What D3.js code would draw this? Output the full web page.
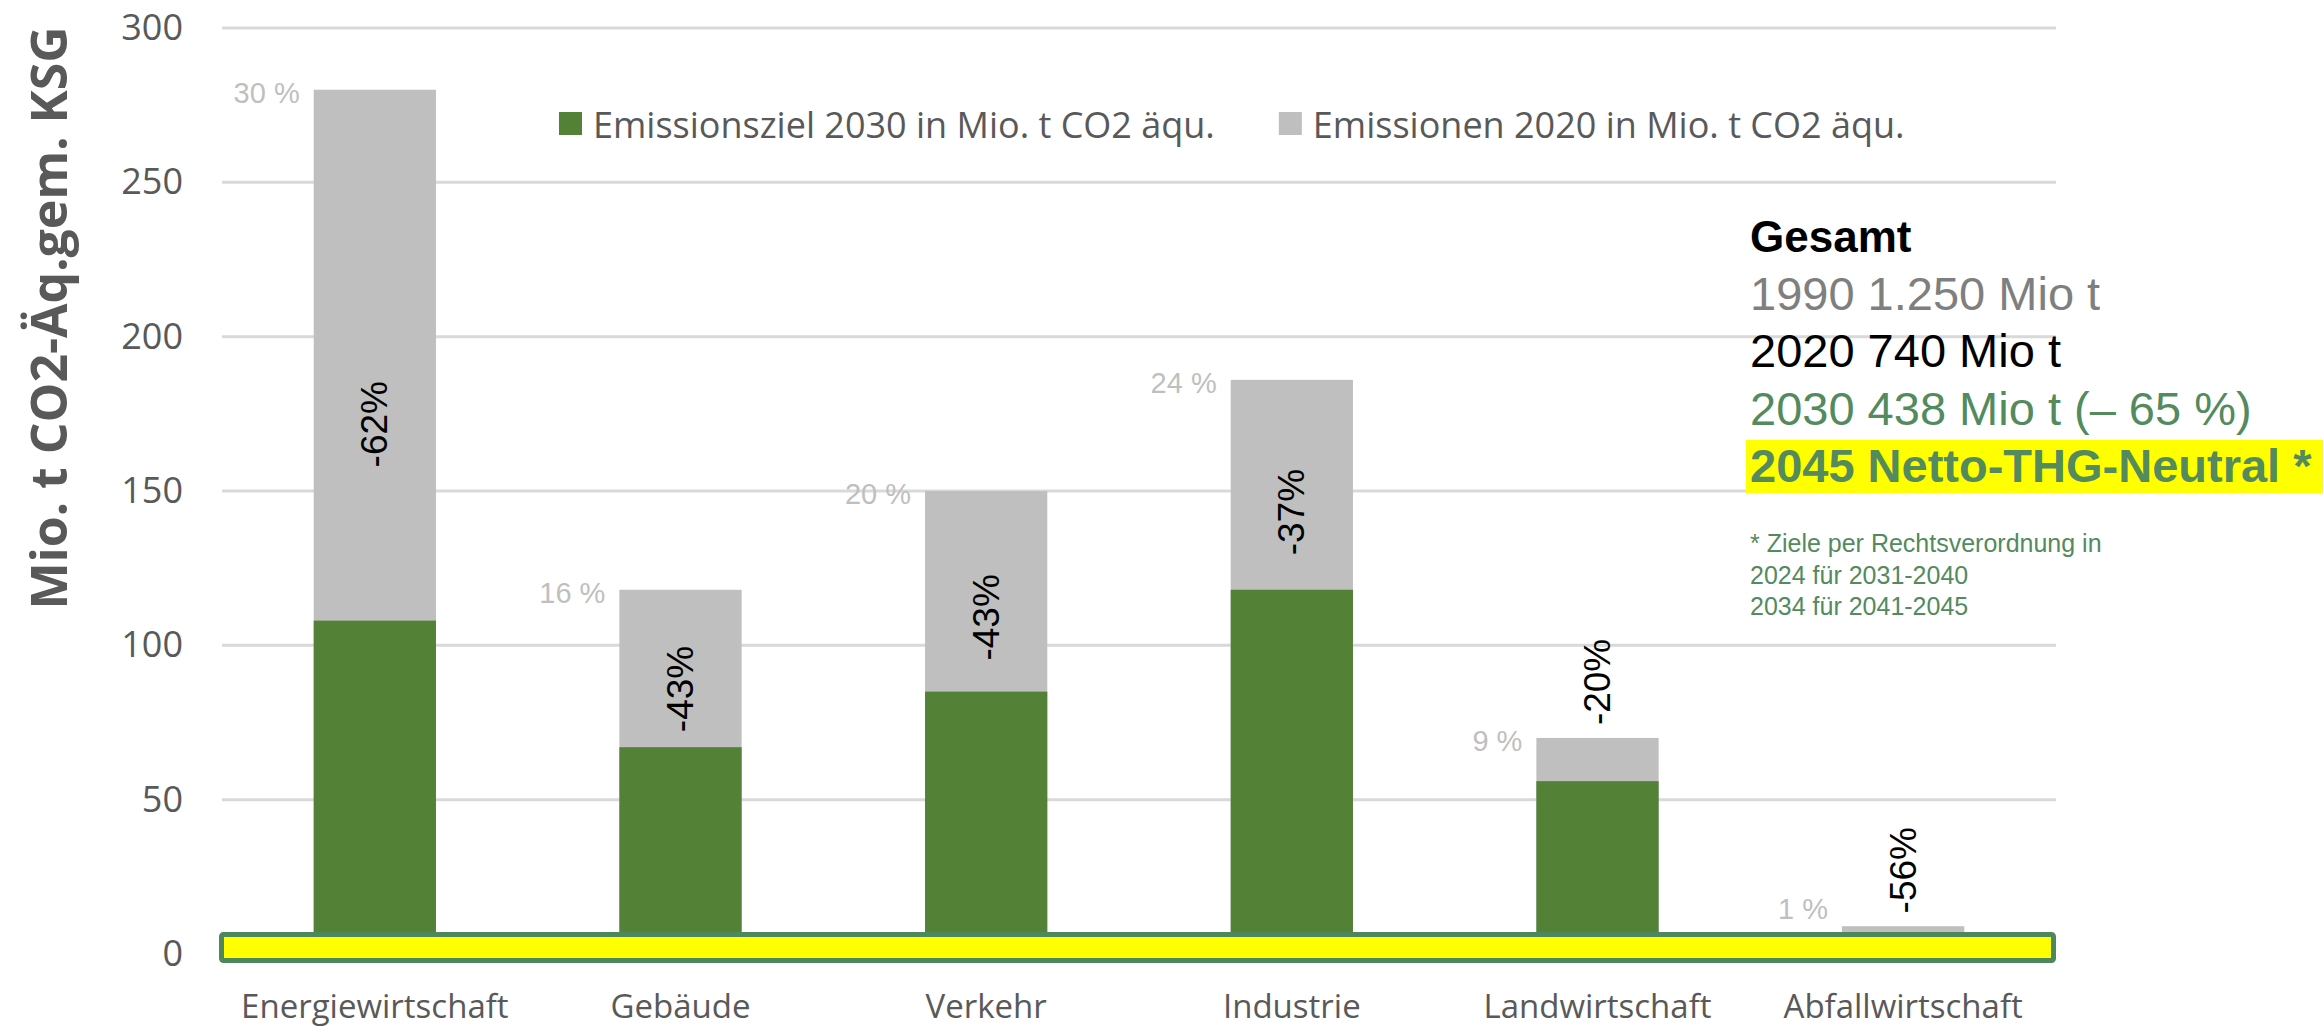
<!DOCTYPE html>
<html>
<head>
<meta charset="utf-8">
<script src="https://cdn.jsdelivr.net/npm/d3@7"></script>
<style>
  body { margin: 0; background: #fff; }
  svg { display: block; }
  .tick text { font-family: "Open Sans", sans-serif; fill: #595959; }
</style>
</head>
<body>
<svg id="chart"></svg>
<script>
let width = 2323, height = 1027;

// data (Mio. t CO2-Äq.)
const categories = ["Energiewirtschaft", "Gebäude", "Verkehr", "Industrie", "Landwirtschaft", "Abfallwirtschaft"];
const target2030 = [108, 67, 85, 118, 56, 4];
const emissions2020 = [280, 118, 150, 186, 70, 9];
const shareLabels = ["30 %", "16 %", "20 %", "24 %", "9 %", "1 %"];
const changeLabels = ["-62%", "-43%", "-43%", "-37%", "-20%", "-56%"];
const yTicks = [0, 50, 100, 150, 200, 250, 300];
const legendLabels = ["Emissionsziel 2030 in Mio. t CO2 äqu.", "Emissionen 2020 in Mio. t CO2 äqu."];
const gesamtLines = ["Gesamt", "1990 1.250 Mio t", "2020 740 Mio t", "2030 438 Mio t (– 65 %)", "2045 Netto-THG-Neutral *"];
const footnoteLines = ["* Ziele per Rechtsverordnung in", "2024 für 2031-2040", "2034 für 2041-2045"];

const green = "#538135", grey = "#bfbfbf", textGreen = "#538a5e";

let svg = d3.select("#chart")
    .attr("width", width)
    .attr("height", height);

let x = d3.scaleBand()
    .domain(categories)
    .range([222, 2056])
    .paddingInner(0.6)
    .paddingOuter(0.3);

let y = d3.scaleLinear()
    .domain([0, 300])
    .range([954, 28]);

let rows = categories.map((c, i) => ({
    cat: c, t: target2030[i], e: emissions2020[i],
    share: shareLabels[i], change: changeLabels[i]
}));

// gridlines
svg.append("g")
    .selectAll("line")
    .data(yTicks)
    .enter()
    .append("line")
    .attr("x1", 222)
    .attr("x2", 2056)
    .attr("y1", d => y(d))
    .attr("y2", d => y(d))
    .attr("stroke", "#d9d9d9")
    .attr("stroke-width", 3);

// y axis labels
let yAxis = svg.append("g")
    .attr("transform", "translate(183,0)")
    .call(d3.axisLeft(y).tickValues(yTicks).tickSize(0).tickPadding(0));
yAxis.select(".domain").remove();
yAxis.selectAll("text").style("font-size", "36px");

// x axis labels
let xAxis = svg.append("g")
    .attr("transform", "translate(0,990)")
    .call(d3.axisBottom(x).tickSize(0).tickPadding(0));
xAxis.select(".domain").remove();
xAxis.selectAll("text").style("font-size", "33px").attr("dy", "0.85em");

// bars: 2020 in grey behind, 2030 target in green
svg.append("g")
    .selectAll("rect")
    .data(rows)
    .enter()
    .append("rect")
    .attr("x", d => x(d.cat))
    .attr("width", x.bandwidth())
    .attr("y", d => y(d.e))
    .attr("height", d => y(0) - y(d.e))
    .attr("fill", grey);

svg.append("g")
    .selectAll("rect")
    .data(rows)
    .enter()
    .append("rect")
    .attr("x", d => x(d.cat))
    .attr("width", x.bandwidth())
    .attr("y", d => y(d.t))
    .attr("height", d => y(0) - y(d.t))
    .attr("fill", green);

// share of total, left of bar top (kept above the yellow band)
svg.append("g")
    .selectAll("text")
    .data(rows)
    .enter()
    .append("text")
    .attr("x", d => x(d.cat) - 14)
    .attr("y", d => Math.min(y(d.e) + 3, y(0) - 45))
    .attr("text-anchor", "end")
    .attr("dominant-baseline", "central")
    .style("font-family", "Liberation Sans, Arial, sans-serif")
    .style("font-size", "29px")
    .attr("fill", grey)
    .text(d => d.share);

// change labels, rotated
svg.append("g")
    .selectAll("text")
    .data(rows)
    .enter()
    .append("text")
    .attr("transform", d => {
        let seg = y(d.t) - y(d.e);
        let cy = seg > 100 ? y(d.e) + seg * 0.63 : y(d.e) - 56;
        return `translate(${x(d.cat) + x.bandwidth() / 2},${cy}) rotate(-90)`;
    })
    .attr("text-anchor", "middle")
    .attr("dominant-baseline", "central")
    .style("font-family", "Liberation Sans, Arial, sans-serif")
    .style("font-size", "37px")
    .attr("fill", "#000")
    .text(d => d.change);

// highlighted zero line
svg.append("rect")
    .attr("x", 221.5)
    .attr("y", y(0) - 19.5)
    .attr("width", 1832)
    .attr("height", 26)
    .attr("rx", 2)
    .attr("fill", "#ffff00")
    .attr("stroke", "#4f875d")
    .attr("stroke-width", 5);

// y axis title
svg.append("text")
    .attr("transform", "translate(67,318) rotate(-90)")
    .attr("text-anchor", "middle")
    .style("font-family", "Open Sans, sans-serif")
    .style("font-weight", "bold")
    .style("font-size", "50px")
    .attr("fill", "#595959")
    .text("Mio. t CO2-Äq.gem. KSG");

// legend
let legend = svg.append("g");
let lx = 559;
[green, grey].forEach((col, i) => {
    legend.append("rect")
        .attr("x", lx).attr("y", 112)
        .attr("width", 23).attr("height", 23)
        .attr("fill", col);
    let t = legend.append("text")
        .attr("x", lx + 34)
        .attr("y", 124)
        .attr("dominant-baseline", "central")
        .style("font-family", "Open Sans, sans-serif")
        .style("font-size", "36px")
        .attr("fill", "#595959")
        .text(legendLabels[i]);
    lx = lx + 34 + t.node().getComputedTextLength() + 64;
});

// Gesamt box
let gx = 1750;
svg.append("rect")
    .attr("x", gx - 4)
    .attr("y", 440)
    .attr("width", width - gx + 4)
    .attr("height", 53)
    .attr("fill", "#ffff00");

let lineStyles = [
    { fill: "#000", weight: "bold", size: 44 },
    { fill: "#7f7f7f", weight: "normal", size: 47 },
    { fill: "#000", weight: "normal", size: 47 },
    { fill: textGreen, weight: "normal", size: 47 },
    { fill: textGreen, weight: "bold", size: 47 }
];
svg.append("g")
    .selectAll("text")
    .data(gesamtLines)
    .enter()
    .append("text")
    .attr("x", gx)
    .attr("y", (d, i) => 252 + i * 57.5)
    .style("font-family", "Liberation Sans, Arial, sans-serif")
    .style("font-weight", (d, i) => lineStyles[i].weight)
    .style("font-size", (d, i) => lineStyles[i].size + "px")
    .attr("fill", (d, i) => lineStyles[i].fill)
    .text(d => d);

svg.append("g")
    .selectAll("text")
    .data(footnoteLines)
    .enter()
    .append("text")
    .attr("x", gx)
    .attr("y", (d, i) => 552 + i * 31.5)
    .style("font-family", "Liberation Sans, Arial, sans-serif")
    .style("font-size", "25px")
    .attr("fill", textGreen)
    .text(d => d);
</script>
</body>
</html>
